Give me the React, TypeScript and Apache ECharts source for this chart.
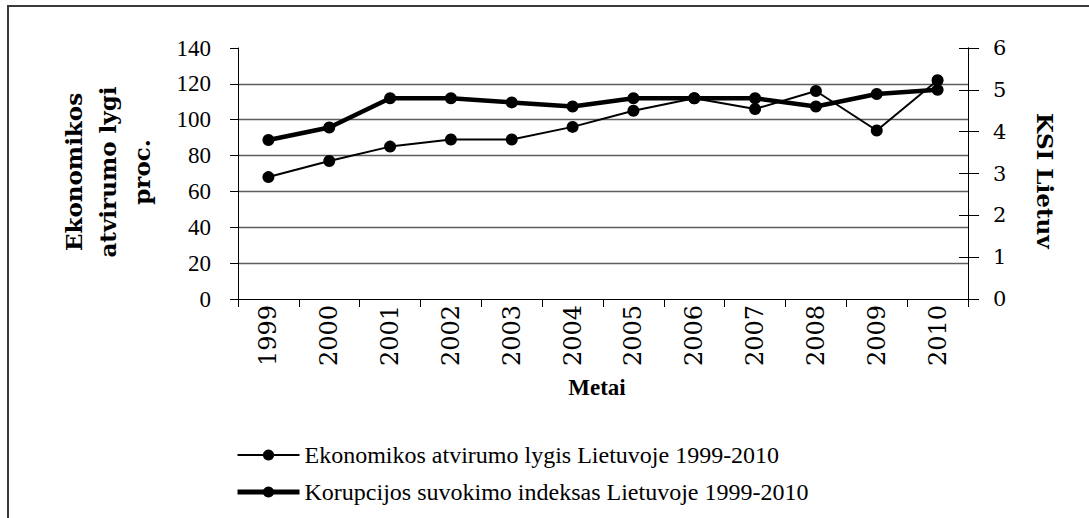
import React, { useEffect, useRef } from "react";
import * as echarts from "echarts";

const years = ["1999", "2000", "2001", "2002", "2003", "2004", "2005", "2006", "2007", "2008", "2009", "2010"];
const openness = [68, 77, 85, 89, 89, 96, 105, 112, 106, 116, 94, 122];
const cpi = [3.8, 4.1, 4.8, 4.8, 4.7, 4.6, 4.8, 4.8, 4.8, 4.6, 4.9, 5.0];
const seriesNames = [
  "Ekonomikos atvirumo lygis Lietuvoje 1999-2010",
  "Korupcijos suvokimo indeksas Lietuvoje 1999-2010",
];
const leftTitle = "Ekonomikos\natvirumo lygi\nproc.";
const rightTitle = "KSI Lietuv";
const xTitle = "Metai";

export default function App() {
  const ref = useRef<HTMLDivElement>(null);
  useEffect(() => {
    if (!ref.current) return;
    const chart = echarts.init(ref.current, null, { renderer: "svg" });
    const serif = "Liberation Serif";
    const dserif = "DejaVu Serif";
    chart.setOption({
      animation: false,
      backgroundColor: "#ffffff",
      grid: { left: 238, right: 121, top: 48, bottom: 219, containLabel: false },
      legend: {
        orient: "vertical",
        left: 230,
        top: 438,
        itemWidth: 62,
        itemHeight: 14,
        itemGap: 13,
        textStyle: { fontFamily: serif, fontSize: 24, color: "#000", lineHeight: 24 },
        data: [
          { name: seriesNames[0], lineStyle: { width: 2, color: "#000" } },
          { name: seriesNames[1], lineStyle: { width: 5, color: "#000" } },
        ],
      },
      xAxis: {
        type: "category",
        data: years,
        boundaryGap: true,
        axisLine: { lineStyle: { color: "#000", width: 1 } },
        axisTick: { show: true, alignWithLabel: false, length: 8, lineStyle: { color: "#000" } },
        axisLabel: { rotate: 90, margin: 6, fontFamily: dserif, fontSize: 24, color: "#000", interval: 0 },
        splitLine: { show: false },
      },
      yAxis: [
        {
          type: "value",
          position: "left",
          min: 0,
          max: 140,
          interval: 20,
          axisLine: { show: true, lineStyle: { color: "#000", width: 1 } },
          axisTick: { show: true, length: 8, lineStyle: { color: "#000" } },
          axisLabel: { margin: 27, fontFamily: serif, fontSize: 23, color: "#000" },
          splitLine: { show: true, showMinLine: false, showMaxLine: false, lineStyle: { color: "#5e5e5e", width: 1.3 } },
        },
        {
          type: "value",
          position: "right",
          min: 0,
          max: 6,
          interval: 1,
          axisLine: { show: true, lineStyle: { color: "#000", width: 1 } },
          axisTick: { show: true, length: 11, lineStyle: { color: "#000" } },
          axisLabel: { margin: 25, fontFamily: dserif, fontSize: 21, color: "#000" },
          splitLine: { show: false },
        },
        {
          type: "value",
          position: "right",
          min: 0,
          max: 6,
          interval: 1,
          axisLine: { show: true, lineStyle: { color: "#000", width: 1 } },
          axisTick: { show: true, inside: true, length: 9, lineStyle: { color: "#000" } },
          axisLabel: { show: false },
          splitLine: { show: false },
        },
      ],
      series: [
        {
          name: seriesNames[0],
          type: "line",
          yAxisIndex: 0,
          data: openness,
          symbol: "circle",
          symbolSize: 12,
          lineStyle: { color: "#000", width: 2 },
          itemStyle: { color: "#000" },
          z: 3,
        },
        {
          name: seriesNames[1],
          type: "line",
          yAxisIndex: 1,
          data: cpi,
          symbol: "circle",
          symbolSize: 12,
          lineStyle: { color: "#000", width: 4.5 },
          itemStyle: { color: "#000" },
          z: 2,
        },
      ],
      graphic: [
        {
          type: "rect",
          shape: { x: 8, y: 6, width: 1200, height: 700 },
          style: { fill: "none", stroke: "#3a3a3a", lineWidth: 2 },
          silent: true,
          z: 0,
        },
        {
          type: "text",
          x: 107,
          y: 172,
          rotation: Math.PI / 2,
          style: {
            text: leftTitle,
            fontFamily: dserif,
            fontWeight: "bold",
            fontSize: 23,
            fill: "#000",
            align: "center",
            verticalAlign: "middle",
            lineHeight: 34,
          },
        },
        {
          type: "text",
          x: 1045,
          y: 113,
          rotation: -Math.PI / 2,
          style: {
            text: rightTitle,
            fontFamily: dserif,
            fontWeight: "bold",
            fontSize: 23,
            fill: "#000",
            align: "left",
            verticalAlign: "middle",
          },
        },
        {
          type: "text",
          x: 597,
          y: 387,
          style: {
            text: xTitle,
            fontFamily: serif,
            fontWeight: "bold",
            fontSize: 23,
            fill: "#000",
            align: "center",
            verticalAlign: "middle",
          },
        },
      ],
    });
    return () => chart.dispose();
  }, []);
  return (
    <div
      ref={ref}
      style={{ position: "absolute", left: 0, top: 0, width: 1089, height: 518 }}
    />
  );
}
